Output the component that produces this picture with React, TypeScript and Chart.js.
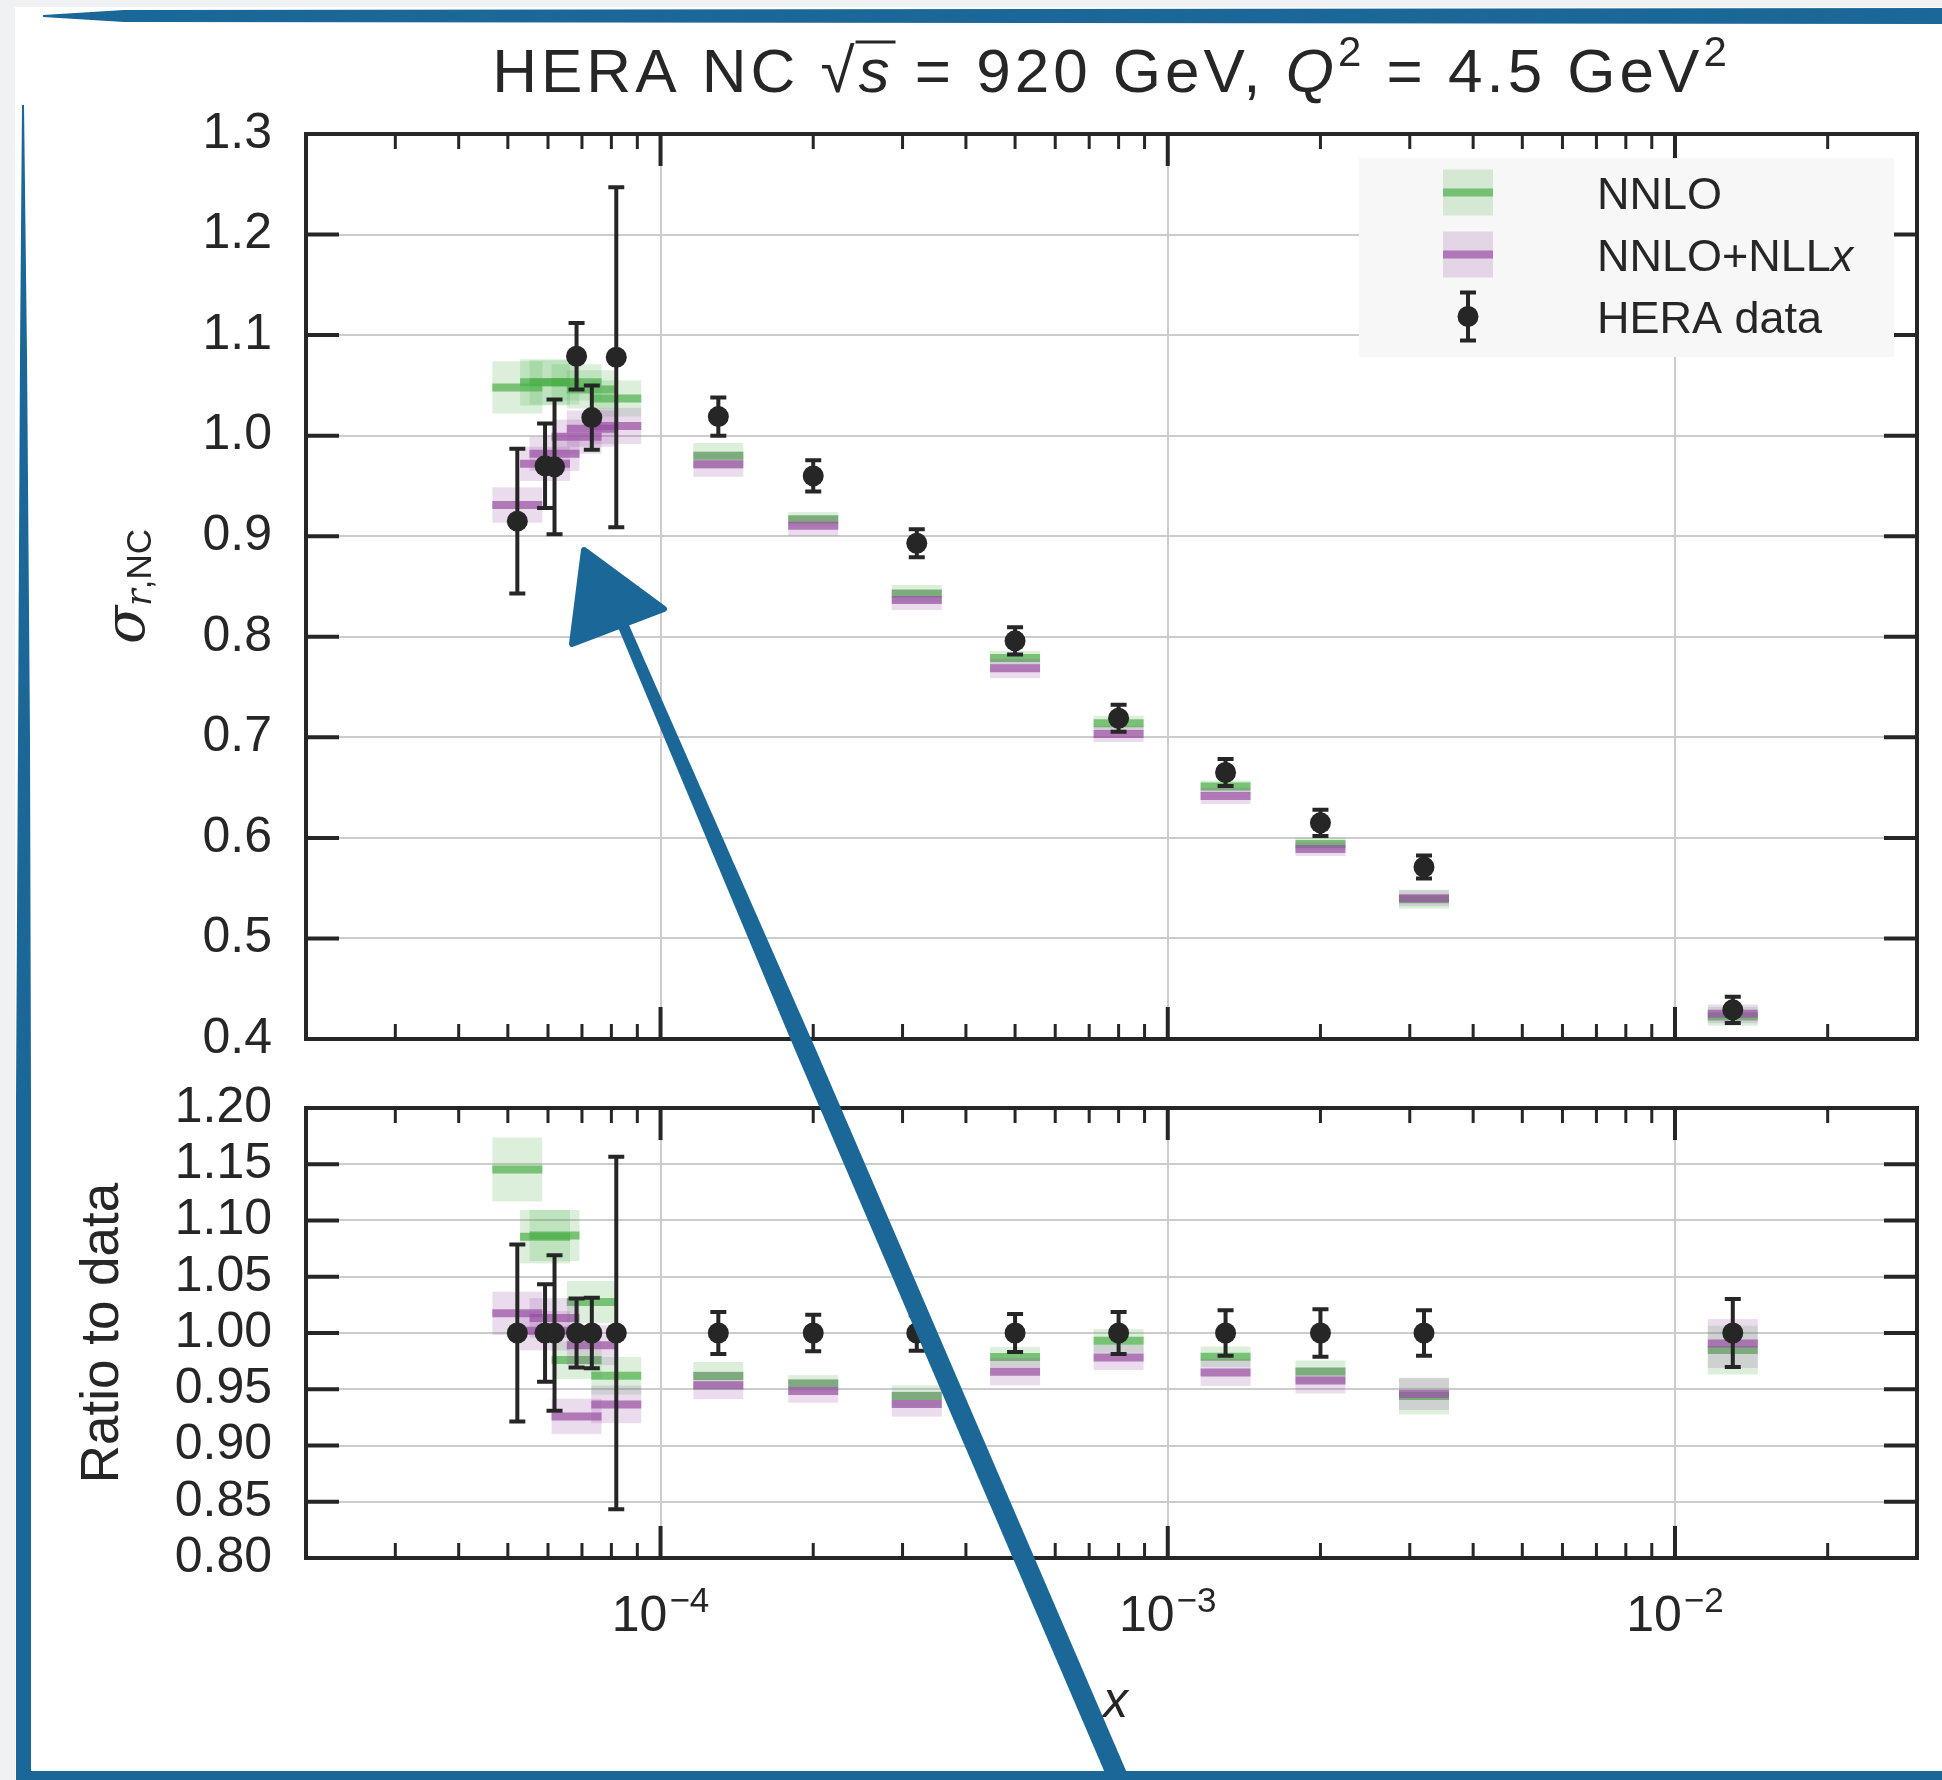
import React, { useEffect, useRef } from 'react';
import { Chart, registerables } from 'chart.js';

Chart.register(...registerables);

// ---------------- data ----------------
const xValues = [5.22e-5, 5.92e-5, 6.18e-5, 6.83e-5, 7.32e-5, 8.18e-5, 1.3e-4, 2.0e-4, 3.2e-4, 5.0e-4, 8.0e-4, 1.3e-3, 2.0e-3, 3.2e-3, 1.3e-2];
const heraSigma = [0.915, 0.970, 0.969, 1.079, 1.018, 1.078, 1.019, 0.960, 0.893, 0.796, 0.719, 0.665, 0.615, 0.571, 0.429];
const heraErr = [0.072, 0.042, 0.067, 0.033, 0.032, 0.169, 0.019, 0.0155, 0.014, 0.0135, 0.0135, 0.0135, 0.013, 0.0115, 0.013];
const nnloSigma = [1.048, 1.053, 1.053, 1.053, 1.046, 1.037, 0.980, 0.917, 0.843, 0.779, 0.714, 0.651, 0.594, 0.539, 0.4225];
const nnloErr = [0.026, 0.023, 0.022, 0.018, 0.019, 0.018, 0.0127, 0.007, 0.0085, 0.007, 0.0075, 0.006, 0.006, 0.0093, 0.0093];
const nllxSigma = [0.931, 0.972, 0.982, 0.999, 1.007, 1.0096, 0.9716, 0.9105, 0.8366, 0.7686, 0.7033, 0.6417, 0.589, 0.540, 0.425];
const nllxErr = [0.0176, 0.017, 0.017, 0.017, 0.018, 0.018, 0.0125, 0.010, 0.010, 0.0097, 0.008, 0.008, 0.007, 0.008, 0.0093];

const sigmaTickValues = [0.4, 0.5, 0.6, 0.7, 0.8, 0.9, 1.0, 1.1, 1.2, 1.3];
const ratioTickValues = [0.8, 0.85, 0.9, 0.95, 1.0, 1.05, 1.1, 1.15, 1.2];
const xDecadeValues = [1e-4, 1e-3, 1e-2];
const xDecadeExponents = ['\u22124', '\u22123', '\u22122'];
const legendNames = ['NNLO', 'NNLO+NLL', 'HERA data'];

// ratio panel quantities (theory / data)
const ratioOne = heraSigma.map(() => 1);
const ratioErr = heraErr.map((e, i) => e / heraSigma[i]);
const nnloRatio = nnloSigma.map((v, i) => v / heraSigma[i]);
const nnloRatioErr = nnloErr.map((e, i) => e / heraSigma[i]);
const nllxRatio = nllxSigma.map((v, i) => v / heraSigma[i]);
const nllxRatioErr = nllxErr.map((e, i) => e / heraSigma[i]);

// ---------------- style ----------------
const X_MIN = 2e-5;
const X_MAX = 3e-2;
const BOX_FACTOR = 1.12;
const INK = '#262626';
const GRID = '#cccccc';
const GREEN = '77,175,74';
const PURPLE = '152,78,163';
const SANS = '"Liberation Sans", Arial, sans-serif';
const SERIF = '"DejaVu Serif", "Liberation Serif", serif';
const BRUSH = '#1a6798';
const W = 1942;
const TOP_H = 1070;
const BOT_H = 710;

const xTickValues: number[] = [];
for (let d = -5; d <= -2; d++) {
  for (let k = 1; k <= 9; k++) {
    const v = k * Math.pow(10, d);
    if (v >= X_MIN * 0.999 && v <= X_MAX * 1.001) xTickValues.push(v);
  }
}
const isDecade = (v: number) => {
  if (!v || v <= 0) return false;
  const l = Math.log10(v);
  return Math.abs(l - Math.round(l)) < 1e-6;
};
const rgba = (c: string, a: number) => `rgba(${c},${a})`;
const pts = (xs: number[], ys: number[]) => xs.map((x, i) => ({ x, y: ys[i] }));

type Piece = { t: string; font: string; dy?: number; overline?: boolean };
function drawRich(ctx: CanvasRenderingContext2D, pieces: Piece[], x: number, y: number, align: 'center' | 'left', spacing = '0px') {
  ctx.save();
  (ctx as any).letterSpacing = spacing;
  ctx.textAlign = 'left';
  ctx.textBaseline = 'alphabetic';
  const widths = pieces.map((p) => {
    ctx.font = p.font;
    return ctx.measureText(p.t).width;
  });
  const total = widths.reduce((s, w) => s + w, 0);
  let cx = align === 'center' ? x - total / 2 : x;
  pieces.forEach((p, i) => {
    ctx.font = p.font;
    ctx.fillText(p.t, cx, y + (p.dy || 0));
    if (p.overline) {
      ctx.lineWidth = 3;
      ctx.beginPath();
      ctx.moveTo(cx - 3, y - 50);
      ctx.lineTo(cx + widths[i] + 2, y - 50);
      ctx.stroke();
    }
    cx += widths[i];
  });
  ctx.restore();
}

const hepPlugin = {
  id: 'hep',
  beforeDatasetDraw(chart: any, args: any) {
    const ds: any = chart.data.datasets[args.index];
    const { ctx, chartArea: a } = chart;
    const xs = chart.scales.x;
    const ys = chart.scales.y;
    ctx.save();
    ctx.beginPath();
    ctx.rect(a.left, a.top, a.right - a.left, a.bottom - a.top);
    ctx.clip();
    if (ds.bandErr) {
      ctx.fillStyle = ds.bandColor;
      ds.data.forEach((p: any, i: number) => {
        const x0 = xs.getPixelForValue(p.x / BOX_FACTOR);
        const x1 = xs.getPixelForValue(p.x * BOX_FACTOR);
        const y0 = ys.getPixelForValue(p.y + ds.bandErr[i]);
        const y1 = ys.getPixelForValue(p.y - ds.bandErr[i]);
        ctx.fillRect(x0, y0, x1 - x0, y1 - y0);
      });
    }
    if (ds.errBar) {
      ctx.strokeStyle = INK;
      ctx.lineWidth = 4;
      ds.data.forEach((p: any, i: number) => {
        const px = xs.getPixelForValue(p.x);
        const yHi = ys.getPixelForValue(p.y + ds.errBar[i]);
        const yLo = ys.getPixelForValue(p.y - ds.errBar[i]);
        ctx.beginPath();
        ctx.moveTo(px, yHi);
        ctx.lineTo(px, yLo);
        ctx.moveTo(px - 8, yHi);
        ctx.lineTo(px + 8, yHi);
        ctx.moveTo(px - 8, yLo);
        ctx.lineTo(px + 8, yLo);
        ctx.stroke();
      });
    }
    ctx.restore();
  },
  afterDraw(chart: any, _args: any, opts: any) {
    const { ctx, chartArea: a } = chart;
    const xs = chart.scales.x;
    const ys = chart.scales.y;
    ctx.save();
    ctx.strokeStyle = INK;
    ctx.fillStyle = INK;
    // inward ticks
    xTickValues.forEach((v) => {
      const px = xs.getPixelForValue(v);
      if (px < a.left + 1 || px > a.right - 1) return;
      const major = isDecade(v);
      const len = major ? 32 : 15;
      ctx.lineWidth = major ? 4 : 3;
      ctx.beginPath();
      ctx.moveTo(px, a.bottom);
      ctx.lineTo(px, a.bottom - len);
      ctx.moveTo(px, a.top);
      ctx.lineTo(px, a.top + len);
      ctx.stroke();
    });
    ys.ticks.forEach((t: any) => {
      const py = ys.getPixelForValue(t.value);
      if (py < a.top + 1 || py > a.bottom - 1) return;
      ctx.lineWidth = 4;
      ctx.beginPath();
      ctx.moveTo(a.left, py);
      ctx.lineTo(a.left + 33, py);
      ctx.moveTo(a.right, py);
      ctx.lineTo(a.right - 33, py);
      ctx.stroke();
    });
    // frame
    ctx.lineWidth = 4;
    ctx.strokeRect(a.left, a.top, a.right - a.left, a.bottom - a.top);

    const midY = (a.top + a.bottom) / 2;
    const midX = (a.left + a.right) / 2;

    if (opts.panel === 'top') {
      // title
      drawRich(ctx, [
        { t: 'HERA NC ', font: `62px ${SANS}` },
        { t: '\u221A', font: `62px ${SANS}` },
        { t: 's', font: `italic 62px ${SANS}`, overline: true },
        { t: ' = 920 GeV, ', font: `62px ${SANS}` },
        { t: 'Q', font: `italic 62px ${SANS}` },
        { t: '2', font: `42px ${SANS}`, dy: -26 },
        { t: ' = 4.5 GeV', font: `62px ${SANS}` },
        { t: '2', font: `42px ${SANS}`, dy: -26 },
      ], midX, a.top - 42, 'center', '4px');

      // y title sigma_{r,NC}
      ctx.save();
      ctx.translate(144, midY);
      ctx.rotate(-Math.PI / 2);
      drawRich(ctx, [
        { t: '\u03C3', font: `italic 56px ${SERIF}` },
        { t: 'r', font: `italic 35px ${SERIF}`, dy: 7 },
        { t: ',NC', font: `35px ${SANS}`, dy: 7 },
      ], 0, 0, 'center');
      ctx.restore();

      // legend
      const lw = 535;
      const lh = 199;
      const lx = a.right - 23 - lw;
      const ly = a.top + 24;
      ctx.fillStyle = '#f7f7f7';
      ctx.fillRect(lx, ly, lw, lh);
      const hx = lx + 109;
      const rows = [ly + 34.5, ly + 96.5, ly + 158.5];
      const bandCols = [GREEN, PURPLE];
      bandCols.forEach((c, i) => {
        ctx.fillStyle = rgba(c, 0.2);
        ctx.fillRect(hx - 25, rows[i] - 23, 50, 46);
        ctx.strokeStyle = rgba(c, 0.7);
        ctx.lineWidth = 8;
        ctx.beginPath();
        ctx.moveTo(hx - 25, rows[i]);
        ctx.lineTo(hx + 25, rows[i]);
        ctx.stroke();
      });
      ctx.strokeStyle = INK;
      ctx.fillStyle = INK;
      ctx.lineWidth = 4;
      ctx.beginPath();
      ctx.moveTo(hx, rows[2] - 24);
      ctx.lineTo(hx, rows[2] + 24);
      ctx.moveTo(hx - 8, rows[2] - 24);
      ctx.lineTo(hx + 8, rows[2] - 24);
      ctx.moveTo(hx - 8, rows[2] + 24);
      ctx.lineTo(hx + 8, rows[2] + 24);
      ctx.stroke();
      ctx.beginPath();
      ctx.arc(hx, rows[2], 10.5, 0, Math.PI * 2);
      ctx.fill();
      const tx = lx + 238;
      drawRich(ctx, [{ t: legendNames[0], font: `45px ${SANS}` }], tx, rows[0] + 16, 'left');
      drawRich(ctx, [
        { t: legendNames[1], font: `45px ${SANS}` },
        { t: 'x', font: `italic 45px ${SANS}` },
      ], tx, rows[1] + 16, 'left');
      drawRich(ctx, [{ t: legendNames[2], font: `45px ${SANS}` }], tx, rows[2] + 16, 'left');
    } else {
      // x tick labels 10^n
      xDecadeValues.forEach((v, i) => {
        const px = xs.getPixelForValue(v);
        ctx.font = `50px ${SANS}`;
        const w1 = ctx.measureText('10').width;
        ctx.font = `35px ${SANS}`;
        const w2 = ctx.measureText(xDecadeExponents[i]).width;
        const left = px - (w1 + w2 + 2) / 2;
        drawRich(ctx, [{ t: '10', font: `50px ${SANS}` }], left, a.bottom + 73, 'left');
        drawRich(ctx, [{ t: xDecadeExponents[i], font: `35px ${SANS}` }], left + w1 + 2, a.bottom + 54, 'left');
      });
      // x title
      drawRich(ctx, [{ t: 'x', font: `italic 50px ${SANS}` }], midX + 4, a.bottom + 159, 'center');
      // y title
      ctx.save();
      ctx.translate(118, midY);
      ctx.rotate(-Math.PI / 2);
      drawRich(ctx, [{ t: 'Ratio to data', font: `53px ${SANS}` }], 0, 0, 'center');
      ctx.restore();
    }
    ctx.restore();
  },
};

const zeroPad = (s: any) => {
  s.paddingTop = 0;
  s.paddingBottom = 0;
  s.paddingLeft = 0;
  s.paddingRight = 0;
};

function buildChart(canvas: HTMLCanvasElement, panel: 'top' | 'bottom') {
  const top = panel === 'top';
  const yVals = top ? [heraSigma, nllxSigma, nnloSigma] : [ratioOne, nllxRatio, nnloRatio];
  const yErrs = top ? [heraErr, nllxErr, nnloErr] : [ratioErr, nllxRatioErr, nnloRatioErr];
  const yTicks = top ? sigmaTickValues : ratioTickValues;
  const decimals = top ? 1 : 2;
  const datasets: any[] = [
    {
      label: 'HERA data',
      data: pts(xValues, yVals[0]),
      errBar: yErrs[0],
      pointStyle: 'circle',
      pointRadius: 10.5,
      pointBackgroundColor: INK,
      pointBorderWidth: 0,
      order: 0,
    },
    {
      label: 'NNLO+NLLx',
      data: pts(xValues, yVals[1]),
      bandErr: yErrs[1],
      bandColor: rgba(PURPLE, 0.2),
      pointStyle: 'line',
      pointRadius: 25,
      pointBorderWidth: 8,
      pointBorderColor: rgba(PURPLE, 0.7),
      order: 1,
    },
    {
      label: 'NNLO',
      data: pts(xValues, yVals[2]),
      bandErr: yErrs[2],
      bandColor: rgba(GREEN, 0.2),
      pointStyle: 'line',
      pointRadius: 25,
      pointBorderWidth: 8,
      pointBorderColor: rgba(GREEN, 0.7),
      order: 2,
    },
  ];
  const xAxisH = top ? TOP_H - 1039 : BOT_H - (1558 - TOP_H);
  return new Chart(canvas, {
    type: 'scatter',
    data: { datasets },
    plugins: [hepPlugin as any],
    options: {
      animation: false,
      responsive: false,
      maintainAspectRatio: false,
      devicePixelRatio: 1,
      events: [],
      layout: { autoPadding: false, padding: { left: 0, right: W - 1917, top: top ? 134 : 1108 - TOP_H, bottom: 0 } },
      plugins: {
        legend: { display: false },
        tooltip: { enabled: false },
        title: { display: false },
        hep: { panel },
      } as any,
      scales: {
        x: {
          type: 'logarithmic',
          min: X_MIN,
          max: X_MAX,
          afterBuildTicks: (s: any) => {
            s.ticks = xTickValues.map((v) => ({ value: v }));
          },
          afterFit: (s: any) => {
            s.height = xAxisH;
            zeroPad(s);
          },
          ticks: { display: false },
          grid: {
            color: (c: any) => (isDecade(c.tick ? c.tick.value : 0) ? GRID : 'rgba(0,0,0,0)'),
            lineWidth: 2,
            drawTicks: false,
          },
          border: { display: false },
        },
        y: {
          type: 'linear',
          min: yTicks[0],
          max: yTicks[yTicks.length - 1],
          afterBuildTicks: (s: any) => {
            s.ticks = yTicks.map((v) => ({ value: v }));
          },
          afterFit: (s: any) => {
            s.width = 306;
            zeroPad(s);
          },
          ticks: {
            autoSkip: false,
            padding: 34,
            color: INK,
            font: { family: SANS, size: 50, lineHeight: 1 },
            callback: (v: any) => Number(v).toFixed(decimals),
          },
          grid: { color: GRID, lineWidth: 2, drawTicks: false },
          border: { display: false },
        },
      },
    } as any,
  });
}

function drawDecor(ctx: CanvasRenderingContext2D) {
  const poly = (p: number[][]) => {
    ctx.beginPath();
    ctx.moveTo(p[0][0], p[0][1]);
    for (let i = 1; i < p.length; i++) ctx.lineTo(p[i][0], p[i][1]);
    ctx.closePath();
    ctx.fill();
  };
  ctx.fillStyle = '#eff1f3';
  ctx.fillRect(0, 0, W, 7);
  ctx.fillRect(0, 0, 15, 1780);
  ctx.fillStyle = BRUSH;
  poly([[43, 15], [124, 10], [W, 8], [W, 24], [124, 22], [43, 17]]);
  poly([[22, 105], [24, 105], [27, 355], [30, 738], [31, 1100], [31, 1780], [16, 1780], [16, 1100], [18, 738], [20, 355]]);
  ctx.fillRect(16, 1771, W - 16, 9);
  // arrow
  poly([[617, 625], [629, 625], [816, 1050], [1130, 1780], [1108, 1780], [795, 1050]]);
  ctx.strokeStyle = BRUSH;
  ctx.lineJoin = 'round';
  ctx.lineWidth = 6;
  ctx.beginPath();
  ctx.moveTo(584, 550);
  ctx.lineTo(664, 609);
  ctx.lineTo(572, 644);
  ctx.closePath();
  ctx.fill();
  ctx.stroke();
}

function ChartCanvas({ panel, top, height }: { panel: 'top' | 'bottom'; top: number; height: number }) {
  const ref = useRef<HTMLCanvasElement>(null);
  useEffect(() => {
    if (!ref.current) return;
    const chart = buildChart(ref.current, panel);
    return () => chart.destroy();
  }, [panel]);
  return (
    <canvas
      ref={ref}
      width={W}
      height={height}
      style={{ position: 'absolute', left: 0, top, width: W, height, display: 'block' }}
    />
  );
}

function DecorCanvas() {
  const ref = useRef<HTMLCanvasElement>(null);
  useEffect(() => {
    const c = ref.current;
    if (!c) return;
    const ctx = c.getContext('2d');
    if (!ctx) return;
    ctx.clearRect(0, 0, c.width, c.height);
    drawDecor(ctx);
  }, []);
  return (
    <canvas
      ref={ref}
      width={W}
      height={1780}
      style={{ position: 'absolute', left: 0, top: 0, width: W, height: 1780, pointerEvents: 'none', zIndex: 2 }}
    />
  );
}

export default function App() {
  return (
    <div style={{ position: 'absolute', left: 0, top: 0, width: W, height: 1780, background: '#ffffff', overflow: 'hidden' }}>
      <ChartCanvas panel="top" top={0} height={TOP_H} />
      <ChartCanvas panel="bottom" top={TOP_H} height={BOT_H} />
      <DecorCanvas />
    </div>
  );
}
